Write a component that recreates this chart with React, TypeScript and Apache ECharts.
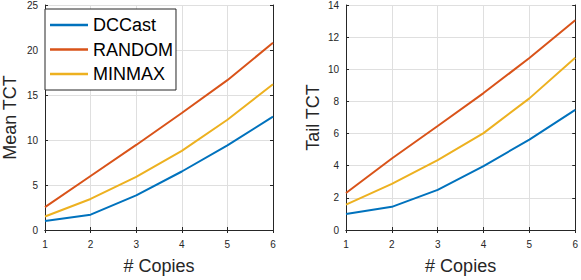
import React, { useEffect, useRef } from "react";
import * as echarts from "echarts";

const copies = [1, 2, 3, 4, 5, 6];
const seriesNames = ["DCCast", "RANDOM", "MINMAX"];
const colors = ["#0072BD", "#D95319", "#EDB120"];

const meanDCCast = [1.0, 1.7, 3.85, 6.5, 9.4, 12.6];
const meanRandom = [2.55, 6.0, 9.45, 13.0, 16.65, 20.8];
const meanMinmax = [1.5, 3.45, 5.9, 8.8, 12.25, 16.2];

const tailDCCast = [1.0, 1.44, 2.5, 3.98, 5.62, 7.47];
const tailRandom = [2.3, 4.45, 6.47, 8.52, 10.7, 13.05];
const tailMinmax = [1.58, 2.87, 4.35, 6.03, 8.19, 10.72];

const FONT = "Liberation Sans, Arial, Helvetica, sans-serif";
const AX = "#262626";
const GRID = "#dfdfdf";

const grids = [
  { left: 40, top: 4, width: 233, height: 231 },
  { left: 346, top: 4, width: 233, height: 231 },
];

function App() {
  const ref = useRef<HTMLDivElement>(null);
  useEffect(() => {
    if (!ref.current) return;
    const chart = echarts.init(ref.current, undefined, { renderer: "svg" });
    const mk = (vals: number[]) => copies.map((c, i) => [c, vals[i]]);
    const meanSets = [meanDCCast, meanRandom, meanMinmax];
    const tailSets = [tailDCCast, tailRandom, tailMinmax];
    const yMax = [25, 14];
    const yInt = [5, 2];
    const yNames = ["Mean TCT", "Tail TCT"];
    const yGaps = [26, 24];

    const xAxis: any[] = [];
    const yAxis: any[] = [];
    [0, 1].forEach((g) => {
      xAxis.push({
        type: "value", gridIndex: g, min: 1, max: 6, interval: 1, position: "bottom",
        name: "# Copies", nameLocation: "middle", nameGap: 27,
        nameTextStyle: { fontFamily: FONT, fontSize: 18, color: AX },
        axisLine: { show: true, lineStyle: { color: AX, width: 1 } },
        axisTick: { show: true, inside: true, length: 3, lineStyle: { color: AX } },
        axisLabel: { fontFamily: FONT, fontSize: 10, color: AX, margin: 9 },
        splitLine: { show: true, lineStyle: { color: GRID, width: 1 } },
      });
      xAxis.push({
        type: "value", gridIndex: g, min: 1, max: 6, interval: 1, position: "top",
        axisLine: { show: true, lineStyle: { color: AX, width: 1 } },
        axisTick: { show: true, inside: true, length: 3, lineStyle: { color: AX } },
        axisLabel: { show: false },
        splitLine: { show: false },
      });
      yAxis.push({
        type: "value", gridIndex: g, min: 0, max: yMax[g], interval: yInt[g], position: "left",
        name: yNames[g], nameLocation: "middle", nameGap: yGaps[g],
        nameTextStyle: { fontFamily: FONT, fontSize: 18, color: AX },
        axisLine: { show: true, lineStyle: { color: AX, width: 1 } },
        axisTick: { show: true, inside: true, length: 3, lineStyle: { color: AX } },
        axisLabel: { fontFamily: FONT, fontSize: 10, color: AX, margin: 7 },
        splitLine: { show: true, lineStyle: { color: GRID, width: 1 } },
      });
      yAxis.push({
        type: "value", gridIndex: g, min: 0, max: yMax[g], interval: yInt[g], position: "right",
        axisLine: { show: true, lineStyle: { color: AX, width: 1 } },
        axisTick: { show: true, inside: true, length: 3, lineStyle: { color: AX } },
        axisLabel: { show: false },
        splitLine: { show: false },
      });
    });

    const series: any[] = [];
    [meanSets, tailSets].forEach((sets, g) => {
      sets.forEach((vals, i) => {
        series.push({
          type: "line", name: seriesNames[i], xAxisIndex: g * 2, yAxisIndex: g * 2,
          data: mk(vals), symbol: "none", showSymbol: false, color: colors[i],
          lineStyle: { color: colors[i], width: 2 },
          z: 3,
        });
      });
    });

    chart.setOption({
      animation: false,
      grid: grids,
      xAxis,
      yAxis,
      legend: {
        left: 45, top: 9, orient: "vertical",
        data: seriesNames.map((n, i) => ({ name: n, icon: "rect", itemStyle: { color: colors[i] } })),
        backgroundColor: "#fff",
        borderColor: AX, borderWidth: 1,
        padding: [7, 3, 7, 5],
        itemWidth: 38, itemHeight: 2.5, itemGap: 6.5,
        textStyle: { fontFamily: FONT, fontSize: 18, color: "#000", lineHeight: 18 },
        selectedMode: false,
      },
      series,
    });
    return () => chart.dispose();
  }, []);
  return <div ref={ref} style={{ width: 581, height: 280, position: "absolute", left: 0, top: 0 }} />;
}

export default App;
